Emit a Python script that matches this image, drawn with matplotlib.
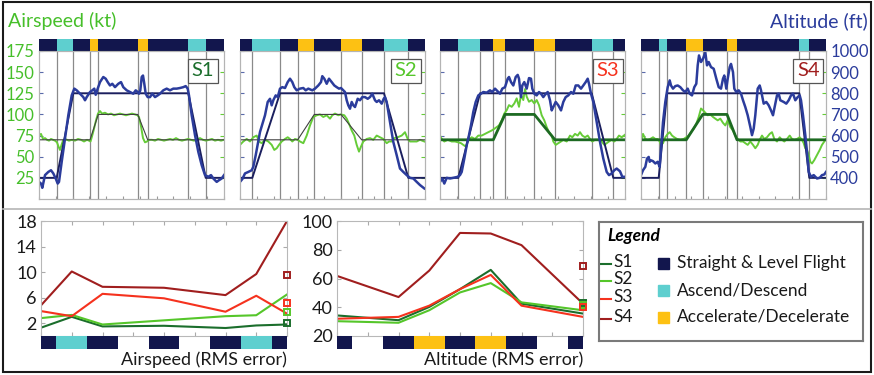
import numpy as np
import matplotlib
matplotlib.use('Agg')
import matplotlib.pyplot as plt
from matplotlib.patches import Rectangle
from matplotlib.lines import Line2D

plt.rcParams['font.family'] = ['Lato', 'DejaVu Sans']

W, H = 874, 375
DURATION = 185          # length of one run (s)
SPD_LO, SPD_HI = 70, 100
ALT_LO, ALT_HI = 400, 800

NAVY = '#12164d'
CYAN = '#5ecfcf'
YELLOW = '#fdc113'
BLUE = '#2b3c9c'
GREEN = '#66cc38'
GREEN_TXT = '#46bf2a'

# flight phases of every run, in order
flight_phases = ['level', 'climb', 'level', 'speed', 'level', 'speed', 'level', 'climb', 'level']
phase_colors = {'level': NAVY, 'climb': CYAN, 'speed': YELLOW}
phase_names = {'level': 'Straight & Level Flight', 'climb': 'Ascend/Descend',
               'speed': 'Accelerate/Decelerate'}

run_names = ['S1', 'S2', 'S3', 'S4']
run_colors = {'S1': '#1b6e2c', 'S2': '#55c62a', 'S3': '#f5321e', 'S4': '#a01e1e'}

# phase boundaries (s)
s1_bounds = [17.7, 34.3, 51, 59.3, 98.7, 108.7, 149.3, 166.7]
s2_bounds = [12.3, 40, 57.7, 74.3, 101, 121.7, 144, 168.3]
s3_bounds = [18.3, 40, 53.3, 65, 94.3, 115, 151.7, 173.3]
s4_bounds = [17.7, 26, 45.3, 61.7, 86, 96, 158.3, 168.3]

# S1 altitude (ft) and airspeed (kt)
s1_alt_t = [0, 2, 3.3, 6, 9.3, 12, 14.3, 16.7, 18.7, 20, 22.7, 26, 29.3, 32.7, 35.3, 37.7, 41, 44.3, 46, 47.7,
            51, 53.3, 55.3, 56.7, 58.7, 61, 64.3, 66.7, 68.7, 71, 73.3, 76, 79.3, 82, 84.3, 87.7, 91, 94.3, 96.7,
            98.7, 100, 101.3, 102.7, 104, 105.3, 106.7, 108.7, 111, 113.3, 116, 118.7, 121, 124.3, 127.7, 131,
            134.3, 137.7, 141, 144.3, 146.7, 148.7, 150, 152.7, 156, 159.3, 162.7, 166, 169.3, 172, 174.3, 177.7,
            180, 182.7, 185]
s1_alt = [381, 373, 353, 413, 428, 436, 421, 397, 373, 381, 476, 586, 696, 790, 822, 814, 798, 782, 767, 782,
          806, 814, 822, 793, 822, 853, 877, 869, 853, 837, 845, 829, 845, 853, 829, 814, 806, 798, 814, 806,
          798, 814, 877, 884, 845, 798, 782, 782, 798, 782, 790, 798, 814, 822, 814, 822, 822, 825, 829, 834,
          822, 790, 696, 602, 523, 460, 413, 405, 413, 397, 381, 389, 397, 413]
s1_spd_t = [0, 2, 4, 6, 8, 10, 12, 14, 16, 18, 19.5, 21, 22.5, 24, 26, 28, 30, 33, 36, 39, 42, 45, 48, 50,
            51.5, 53, 55, 57, 59, 61, 63, 66, 69, 72, 75, 78, 81, 84, 87, 90, 93, 96, 98.5, 100, 102, 104, 106,
            108, 110, 113, 116, 119, 122, 125, 128, 131, 134, 137, 140, 143, 146, 149, 152, 155, 158, 161, 164,
            167, 170, 173, 176, 179, 182, 185]
s1_spd = [75, 77, 71, 72, 70, 69, 71, 70, 69, 67, 62, 58, 64, 69, 71, 70, 69, 70, 69, 71, 70, 68, 70, 69,
          68, 74, 83, 93, 101, 104, 101, 102, 100, 101, 99, 100, 101, 100, 99, 100, 101, 100, 99, 97, 86, 72,
          67, 68, 70, 70, 69, 71, 70, 69, 70, 71, 70, 72, 70, 69, 70, 71, 70, 69, 70, 72, 70, 69, 70, 71, 69,
          70, 69, 70]

# S2
s2_alt_t = [0, 2.3, 5, 8.3, 11.7, 13.3, 15.7, 20, 25, 27.7, 30, 31.7, 33.3, 35.7, 37.7, 40, 42.3, 45, 47.7, 50,
            52.3, 54.3, 56.7, 60, 63.3, 65.7, 68.3, 72.3, 75, 78.3, 81, 82.3, 84.3, 86.7, 89, 91.7, 94.3, 96.7,
            99, 101, 103.3, 105, 106.7, 108.3, 110, 111.7, 113.3, 115, 117.7, 120, 122.3, 125, 127.7, 130, 132.3,
            135, 136.7, 139, 141.7, 143.7, 145, 146.7, 150, 153.3, 156.7, 160, 163.3, 166.7, 170, 173.3, 176.7,
            180, 184.3]
s2_alt = [381, 394, 421, 428, 436, 452, 507, 617, 696, 759, 774, 743, 767, 790, 782, 822, 829, 825, 853, 869,
          853, 829, 814, 822, 825, 814, 822, 814, 822, 837, 853, 881, 869, 845, 869, 853, 837, 829, 822, 825,
          814, 806, 767, 743, 727, 759, 743, 735, 774, 767, 782, 782, 774, 782, 798, 767, 759, 767, 751, 774,
          782, 759, 664, 570, 507, 444, 428, 413, 400, 397, 381, 366, 350]
s2_spd_t = [0, 3.3, 6.7, 10, 13.3, 16.7, 19, 21.7, 25, 28.3, 31.7, 34.3, 36.7, 39, 41.7, 45, 47.7, 50, 52.3, 55,
            57.7, 60, 63.3, 66.7, 70, 73.3, 76.7, 80, 83.3, 86.7, 90, 92.3, 95, 98.3, 101, 104.3, 106.7, 109,
            111.7, 114.3, 116.7, 119, 121, 123.3, 126.7, 130, 133.3, 136.7, 140, 143.3, 146.7, 149, 151.7, 154.3,
            157.7, 161.7, 165, 167.7, 170, 173.3, 176.7, 180, 184.3]
s2_spd = [64, 68, 71, 68, 73, 75, 68, 66, 70, 68, 64, 58, 60, 64, 68, 71, 73, 71, 68, 71, 70, 68, 66, 75, 87,
          97, 99, 100, 97, 99, 95, 99, 101, 99, 100, 99, 95, 89, 81, 75, 64, 56, 62, 68, 71, 72, 70, 75, 73,
          71, 66, 68, 68, 72, 73, 75, 79, 71, 68, 68, 68, 70, 68]

# S3
s3_alt_t = [0, 2.3, 4.3, 6.7, 10, 13.3, 17.7, 20, 21.7, 24.3, 26.7, 29, 31, 33.3, 35.7, 38.3, 41, 43.3, 46.7, 50,
            52.3, 55, 57.7, 60, 62.3, 65, 67.7, 69, 71, 73.3, 75.7, 77.7, 79, 81, 82.3, 84.3, 86.7, 89, 91, 92.3,
            94.3, 96.7, 99, 101, 103.3, 105, 107.7, 110, 111.7, 113.3, 115.7, 118.3, 121, 123.3, 125.7, 128.3,
            131, 133.3, 135.7, 138.3, 141, 143.3, 145.7, 147.7, 149, 151, 153.3, 156.7, 160, 163.3, 166.7, 169,
            171.7, 174.3, 176.7, 180, 182.3, 185]
s3_alt = [381, 397, 373, 400, 397, 400, 405, 413, 428, 491, 554, 602, 649, 712, 759, 790, 798, 806, 803, 814,
          806, 822, 809, 798, 822, 829, 869, 877, 853, 837, 877, 887, 869, 782, 837, 853, 822, 872, 869, 822,
          798, 790, 806, 798, 782, 793, 806, 767, 719, 735, 759, 743, 719, 759, 782, 790, 806, 798, 837, 837,
          822, 837, 853, 869, 845, 798, 759, 664, 570, 491, 428, 413, 421, 436, 444, 431, 405, 405]
s3_spd_t = [0, 1.7, 4.3, 7.7, 11.7, 15, 18.3, 21, 23.3, 25.7, 28.3, 31.7, 35, 38.3, 41.7, 45, 48.3, 51.7, 54.3,
            56.7, 59, 61.7, 64.3, 66.7, 69, 71.7, 74.3, 76.7, 79, 81, 83.3, 85, 86.7, 89, 91.7, 94.3, 96.7, 99,
            101.7, 104.3, 106.7, 109, 111.7, 113.3, 115.7, 118.3, 121, 123.3, 126.7, 130, 132.3, 135, 137.7, 140,
            142.3, 145, 147.7, 150, 152.3, 155, 158.3, 161.7, 164.3, 166.7, 169, 171.7, 174.3, 176.7, 179, 181.7,
            185]
s3_spd = [75, 71, 68, 70, 68, 68, 67, 66, 64, 62, 70, 73, 71, 75, 75, 77, 79, 81, 83, 85, 87, 93, 101, 105,
          111, 109, 113, 119, 109, 123, 117, 130, 121, 115, 117, 113, 117, 111, 99, 93, 85, 79, 75, 68, 64,
          66, 68, 70, 68, 75, 73, 77, 75, 79, 75, 73, 75, 71, 68, 70, 70, 68, 64, 66, 68, 70, 68, 71, 75, 73, 76]

# S4
s4_alt_t = [0, 2, 4.3, 6, 7.7, 8.7, 10, 12, 14.3, 16.7, 18.7, 20, 22, 24.3, 26.7, 28.7, 30, 32, 34.3, 36.7,
            39.3, 42, 44.3, 46.7, 48.7, 51, 53.3, 55.3, 56.7, 58, 60, 62, 64.3, 66, 67.7, 70, 72.7, 75.3, 77.7,
            80, 82, 83.3, 85.3, 86.7, 88.7, 90, 92, 93.3, 95.3, 97.7, 100, 102, 104.3, 106.7, 109.3, 111, 112.7,
            114.3, 116.7, 118.7, 120, 122.7, 125.3, 127.7, 130, 132, 133.3, 136, 137.7, 139.3, 142.7, 145.3,
            147.7, 150, 152, 154.3, 156.7, 158.7, 160, 162, 164.3, 166, 167.7, 170, 172.7, 176, 178.7, 181,
            183.3, 185]
s4_alt = [413, 436, 452, 491, 499, 476, 483, 479, 468, 476, 452, 538, 664, 759, 829, 861, 837, 822, 834, 837,
          829, 814, 806, 822, 798, 790, 829, 845, 932, 979, 948, 963, 994, 932, 948, 924, 916, 869, 829, 822,
          869, 884, 822, 869, 924, 939, 900, 822, 806, 814, 798, 767, 735, 696, 641, 602, 633, 696, 822, 837,
          814, 751, 759, 743, 719, 696, 727, 790, 798, 767, 759, 751, 767, 790, 798, 767, 782, 790, 767, 696,
          602, 523, 428, 405, 413, 397, 400, 413, 416, 428]
s4_spd_t = [0, 2, 4.3, 6.7, 9.3, 12, 14.3, 16.7, 18.7, 20, 22, 24.3, 26.7, 28.7, 31, 33.3, 36, 39.3, 42.7, 45.3,
            47.7, 50, 52.7, 55.3, 57.7, 60, 62, 64.3, 66.7, 69.3, 72, 74.3, 76.7, 79.3, 82, 84.3, 86.7, 89.3, 92,
            94.3, 96.7, 99.3, 102, 104.3, 106.7, 109.3, 112, 114.3, 116.7, 118.7, 121, 123.3, 126, 128.7, 131,
            133.3, 136, 138.7, 141, 143.3, 146, 148.7, 151, 153.3, 156, 158.7, 161, 162.7, 164.3, 166, 167.7,
            169.3, 171, 173.3, 176, 178.7, 181, 183.3, 185]
s4_spd = [68, 77, 71, 70, 71, 73, 71, 71, 68, 64, 66, 73, 77, 79, 75, 73, 71, 70, 71, 73, 75, 79, 83, 89, 97,
          107, 105, 102, 99, 100, 97, 95, 93, 95, 90, 87, 93, 85, 81, 75, 71, 68, 68, 66, 64, 68, 64, 60, 64,
          70, 75, 71, 73, 77, 79, 71, 68, 73, 70, 68, 71, 75, 71, 70, 71, 73, 70, 66, 60, 58, 52, 44, 42, 46,
          52, 58, 64, 68, 71]

# RMS error per flight phase (phase index 0..8)
as_idx = [0, 1, 2, 4, 6, 7, 8]
as_rms = {'S1': [1.3, 3.0, 1.5, 1.6, 1.25, 1.65, 1.8],
          'S2': [2.8, 3.3, 1.8, 2.45, 3.1, 3.25, 6.5],
          'S3': [3.9, 3.1, 6.6, 5.9, 3.8, 6.3, 3.5],
          'S4': [4.8, 10.1, 7.7, 7.55, 6.4, 9.7, 18.0]}
as_mean = {'S1': 2.05, 'S2': 3.7, 'S3': 5.1, 'S4': 9.55}

alt_idx = [0, 2, 3, 4, 5, 6, 8]
alt_rms = {'S1': [34.3, 31, 40.2, 52.6, 66, 42.5, 35.6],
           'S2': [30.3, 29.2, 37.9, 50.3, 56.8, 43.4, 37.9],
           'S3': [32, 33.3, 41.1, 52.6, 62.5, 41.1, 33.3],
           'S4': [61.8, 47.1, 65.5, 91.7, 91.3, 83.2, 42.5]}
alt_mean = {'S1': 43, 'S2': 41.5, 'S3': 40.5, 'S4': 69}


def rect(x0, y0, x1, y1):
  # pixel box (top-left origin) -> figure fraction
  return [x0 / W, 1 - y1 / H, (x1 - x0) / W, (y1 - y0) / H]


def spines(ax, color='#b4b4b4', lw=0.8):
  for s in ax.spines.values():
    s.set_color(color)
    s.set_linewidth(lw)


fig = plt.figure(figsize=(W / 100, H / 100), dpi=100)


def draw_run(x0, bounds, alt_t, alt, spd_t, spd, name, label_x, thick_ref, first, last):
  ax = fig.add_axes(rect(x0, 51, x0 + 185, 199))
  strip = fig.add_axes(rect(x0, 39, x0 + 185, 51))
  edges = [0] + bounds + [DURATION]
  for k, ph in enumerate(flight_phases):
    strip.axvspan(edges[k], edges[k + 1], color=phase_colors[ph], lw=0)
  strip.set_xlim(0, DURATION)
  strip.axis('off')

  for b in bounds:
    ax.axvline(b, color='#8a8a8a', lw=0.9, zorder=1)

  ref_t = [0, bounds[2], bounds[3], bounds[4], bounds[5], DURATION]
  ref_spd = [SPD_LO, SPD_LO, SPD_HI, SPD_HI, SPD_LO, SPD_LO]
  ax.plot(spd_t, spd, color=GREEN, lw=1.4, zorder=2)
  if thick_ref:
    ax.plot(ref_t, ref_spd, color='#1d6a22', lw=2.0, zorder=3)
  else:
    ax.plot(ref_t, ref_spd, color='#404040', lw=0.8, zorder=3)
  ax.set_xlim(0, DURATION)
  ax.set_ylim(0, 175)
  ax.set_yticks(range(25, 176, 25))
  ax.set_xticks(np.arange(0, DURATION, 16.8))
  ax.tick_params(axis='y', direction='in', length=3, color='#5a6aaa', labelsize=12,
                 labelcolor=GREEN_TXT, pad=3, labelleft=first)
  ax.tick_params(axis='x', direction='in', length=2.5, color='#999999', labelbottom=False)

  ax2 = ax.twinx()
  ref_at = [0, bounds[0], bounds[1], bounds[6], bounds[7], DURATION]
  ref_alt = [ALT_LO, ALT_LO, ALT_HI, ALT_HI, ALT_LO, ALT_LO]
  ax2.plot(ref_at, ref_alt, color='#1b1f5e', lw=1.4)
  ax2.plot(alt_t, alt, color=BLUE, lw=1.8)
  ax2.set_ylim(300, 1000)
  ax2.set_yticks(range(400, 1001, 100))
  ax2.tick_params(axis='y', direction='in', length=3, color=GREEN, labelsize=12,
                  labelcolor=BLUE, pad=3, labelright=last)
  spines(ax)
  spines(ax2)
  ax2.text(label_x, 0.865, name, transform=ax2.transAxes, ha='center', va='center',
           fontsize=14.5, color=run_colors[name], zorder=10,
           bbox=dict(boxstyle='square,pad=0.18', fc='white', ec='#555555', lw=0.9))


draw_run(39, s1_bounds, s1_alt_t, s1_alt, s1_spd_t, s1_spd, 'S1', 0.886, False, True, False)
draw_run(240, s2_bounds, s2_alt_t, s2_alt, s2_spd_t, s2_spd, 'S2', 0.896, False, False, False)
draw_run(440, s3_bounds, s3_alt_t, s3_alt, s3_spd_t, s3_spd, 'S3', 0.908, True, False, False)
draw_run(641, s4_bounds, s4_alt_t, s4_alt, s4_spd_t, s4_spd, 'S4', 0.905, True, False, True)

fig.text(8 / W, 1 - 21 / H, 'Airspeed (kt)', color=GREEN_TXT, fontsize=14, va='center')
fig.text(868 / W, 1 - 21 / H, 'Altitude (ft)', color=BLUE, fontsize=14, va='center', ha='right')


def draw_rms(x0, x1, idx, series, means, ylim, yticks, hidden, label):
  ax = fig.add_axes(rect(x0, 221, x1, 336))
  strip = fig.add_axes(rect(x0, 336, x1, 348.5))
  for k, ph in enumerate(flight_phases):
    if ph != hidden:
      strip.axvspan(k - 0.5, k + 0.5, color=phase_colors[ph], lw=0)
  strip.set_xlim(0, 8)
  strip.axis('off')
  for name in run_names:
    ax.plot(idx, series[name], color=run_colors[name], lw=1.5)
    ax.plot(8, means[name], 's', ms=5, mfc='none', mec=run_colors[name], mew=1.4,
            clip_on=False, zorder=5)
  ax.set_xlim(0, 8)
  ax.set_ylim(*ylim)
  ax.set_yticks(yticks)
  ax.set_xticks(range(9))
  ax.tick_params(direction='in', top=True, right=True, length=3, color='#aaaaaa',
                 labelbottom=False, labelsize=13, pad=3, labelcolor='#1a1a1a')
  spines(ax, '#b8b8b8')
  fig.text(x1 / W, 1 - 360 / H, label, ha='right', va='center', fontsize=13, color='#1a1a1a')


draw_rms(41, 287, as_idx, as_rms, as_mean, (0, 18), [2, 6, 10, 14, 18], 'speed',
         'Airspeed (RMS error)')
draw_rms(337, 583, alt_idx, alt_rms, alt_mean, (20, 100), [20, 40, 60, 80, 100], 'climb',
         'Altitude (RMS error)')

# legend box
lg = fig.add_axes(rect(599, 222, 863, 341))
lg.set_xlim(0, 264)
lg.set_ylim(119, 0)
lg.set_xticks([])
lg.set_yticks([])
spines(lg, '#7a7a7a', 1.5)
lg.text(8, 14, 'Legend', fontsize=12.5, fontweight='bold', fontstyle='italic', va='center')
for k, name in enumerate(run_names):
  y = [40, 57, 75, 95][k]
  lg.plot([1, 12], [y + 2, y + 2], color=run_colors[name], lw=1.5)
  lg.text(14, y, name, fontsize=12.5, va='center', color='#1a1a1a')
for k, ph in enumerate(['level', 'climb', 'speed']):
  y = [41, 68, 95][k]
  lg.add_patch(Rectangle((59, y - 5.5), 11, 11, color=phase_colors[ph]))
  lg.text(78, y, phase_names[ph], fontsize=12.5, va='center', color='#1a1a1a')

# outer frame and separator
fig.add_artist(Rectangle((3 / W, 1 - 372 / H), 868 / W, 370 / H, transform=fig.transFigure,
                         fill=False, ec='#1a1a1a', lw=1.5))
fig.add_artist(Line2D([3 / W, 871 / W], [1 - 209 / H] * 2, transform=fig.transFigure,
                      color='#b5b5b5', lw=1.2))

fig.savefig('out.png', dpi=100)
